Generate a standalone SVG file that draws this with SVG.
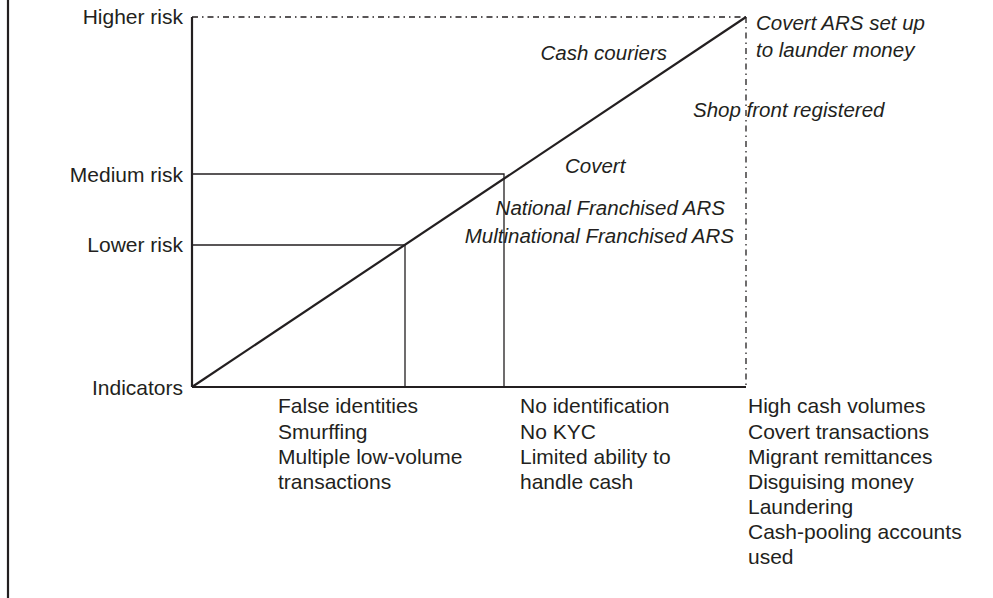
<svg xmlns="http://www.w3.org/2000/svg" width="993" height="598" viewBox="0 0 993 598">
<style>
text{font-family:"Liberation Sans",Arial,sans-serif;font-size:21px;fill:#231f20}
.it{font-style:italic;font-size:20.5px}
.r{text-anchor:end}
.ax{stroke:#231f20;stroke-width:2.2;fill:none}
.th{stroke:#231f20;stroke-width:1.3;fill:none}
.dd{stroke:#231f20;stroke-width:1.3;fill:none;stroke-dasharray:6 4 1.5 4}
</style>
<rect width="993" height="598" fill="#fff"/>
<g id="connectors">
<line class="ax" x1="8" y1="0" x2="8" y2="598"/>
<line class="ax" x1="192" y1="17" x2="192" y2="387"/>
<line class="ax" x1="192" y1="387" x2="746" y2="387"/>
<line class="dd" x1="192" y1="17" x2="746" y2="17"/>
<line class="dd" x1="746" y1="17" x2="746" y2="387"/>
<line class="ax" x1="192" y1="387" x2="746" y2="17"/>
<polyline class="th" points="192,174 504,174 504,387"/>
<polyline class="th" points="192,245 405,245 405,387"/>
</g>
<g id="axis-labels">
<text class="r" x="183" y="24">Higher risk</text>
<text class="r" x="183" y="182">Medium risk</text>
<text class="r" x="183" y="252">Lower risk</text>
<text class="r" x="183" y="395">Indicators</text>
</g>
<g id="low-indicators">
<text x="278" y="413">False identities</text>
<text x="278" y="438.5">Smurffing</text>
<text x="278" y="464">Multiple low-volume</text>
<text x="278" y="489">transactions</text>
</g>
<g id="medium-indicators">
<text x="520" y="413">No identification</text>
<text x="520" y="438.5">No KYC</text>
<text x="520" y="464">Limited ability to</text>
<text x="520" y="489">handle cash</text>
</g>
<g id="high-indicators">
<text x="748" y="413">High cash volumes</text>
<text x="748" y="438.5">Covert transactions</text>
<text x="748" y="464">Migrant remittances</text>
<text x="748" y="489">Disguising money</text>
<text x="748" y="514">Laundering</text>
<text x="748" y="539">Cash-pooling accounts</text>
<text x="748" y="564">used</text>
</g>
<g id="categories">
<text class="it r" x="667" y="60">Cash couriers</text>
<text class="it" x="756" y="30">Covert ARS set up</text>
<text class="it" x="756" y="57">to launder money</text>
<text class="it" x="693" y="117">Shop front registered</text>
<text class="it" x="565" y="173">Covert</text>
<text class="it r" x="725" y="215">National Franchised ARS</text>
<text class="it r" x="734" y="243">Multinational Franchised ARS</text>
</g>
</svg>
